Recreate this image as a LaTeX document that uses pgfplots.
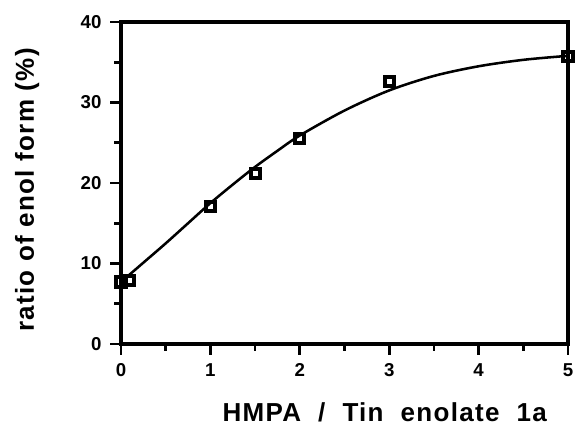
\documentclass[border=0pt]{standalone}
\usepackage{fontspec}
\setmainfont{Liberation Sans}
\newfontfamily\lblfont[LetterSpace=5]{Liberation Sans}
\usepackage{pgfplots}
\pgfplotsset{compat=1.18}

\begin{document}
\begin{tikzpicture}
\begin{axis}[
    scale only axis,
    width=335.25pt, height=241.5pt,
    xmin=0, xmax=5, ymin=0, ymax=40,
    xtick={0,1,2,3,4,5},
    ytick={0,10,20,30,40},
    minor tick num=1,
    tick align=outside,
    xtick pos=bottom, ytick pos=left,
    major tick length=8pt, minor tick length=5pt,
    every axis/.append style={line width=2.6pt},
    tick style={line width=2pt, black},
    /pgf/number format/assume math mode=true,
    tick label style={font=\bfseries\fontsize{14}{16}\selectfont},
    xticklabel style={yshift=-2pt},
    yticklabel style={xshift=-2pt},
    xlabel={\lblfont\bfseries HMPA \ / \ Tin \ enolate \ 1a},
    ylabel={\lblfont\bfseries ratio of enol form (\%)},
    label style={font=\fontsize{19.5}{21}\selectfont},
    xlabel style={at={(axis description cs:0.59,0)}, anchor=base, yshift=-58.5pt},
    ylabel style={at={(axis description cs:-0.21,0.478)}, anchor=center},
    clip=false,
]
% fitted curve
\addplot[black, line width=1.9pt, smooth, mark=none] coordinates {
    (0,7.7) (0.25,10.1) (0.5,12.5) (0.75,15.0) (1,17.5) (1.25,19.8)
    (1.5,22.0) (1.75,24.0) (2,25.9) (2.5,29.0) (3,31.5) (3.5,33.3)
    (4,34.5) (4.5,35.3) (5,35.8)
};
% measured points
\addplot[only marks, mark=square, mark size=3.4pt, line width=3pt, black,
    mark options={fill=white}] coordinates {
    (0,7.7) (0.1,7.9) (1,17.1) (1.5,21.2) (2,25.5) (3,32.6) (5,35.7)
};
\end{axis}
\pgfresetboundingbox
\path (-90.75pt,-63pt) rectangle (341.25pt,258pt);
\end{tikzpicture}
\end{document}
